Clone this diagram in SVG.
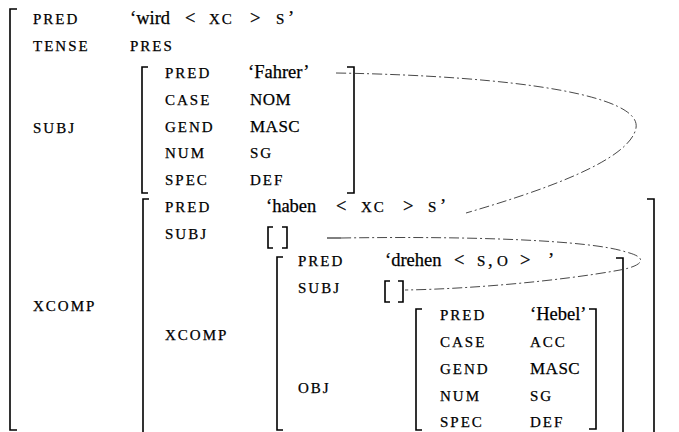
<svg xmlns="http://www.w3.org/2000/svg" width="679" height="432" viewBox="0 0 679 432">
<style>
text{font-family:"Liberation Serif","DejaVu Serif",serif;fill:#000;stroke:#000;stroke-width:0.25}
.lab{font-size:15px;letter-spacing:2px}
.val{font-size:18.5px}
.cap{font-size:17px;letter-spacing:0.5px}
.sc{font-size:15px;letter-spacing:2px}
.br{fill:none;stroke:#000;stroke-width:1.6}
.con{fill:none;stroke:#333;stroke-width:0.9;stroke-dasharray:10 3 2 3}
</style>
<rect width="679" height="432" fill="#fff"/>
<g id="outer">
<path class="br" d="M17,9 H10 V430 H17"/>
<text class="lab" x="33" y="24">PRED</text>
<text class="val" y="24"><tspan x="130">‘wird</tspan><tspan x="185">&lt;</tspan><tspan class="sc" x="209">XC</tspan><tspan x="250">&gt;</tspan><tspan class="sc" x="276">S</tspan><tspan x="288">’</tspan></text>
<text class="lab" x="33" y="51">TENSE</text>
<text class="sc" x="130" y="51">PRES</text>
<text class="lab" x="33" y="133">SUBJ</text>
<text class="lab" x="33" y="311">XCOMP</text>
</g>
<g id="subj">
<path class="br" d="M148,67 H142 V193 H148"/>
<path class="br" d="M347,67 H354 V193 H347"/>
<text class="lab" x="165" y="78">PRED</text>
<text class="val" x="248" y="78">‘Fahrer’</text>
<text class="lab" x="165" y="105">CASE</text>
<text class="cap" x="250" y="105">NOM</text>
<text class="lab" x="165" y="132">GEND</text>
<text class="cap" x="250" y="132">MASC</text>
<text class="lab" x="165" y="158">NUM</text>
<text class="sc" x="250" y="158">SG</text>
<text class="lab" x="165" y="185">SPEC</text>
<text class="sc" x="250" y="185">DEF</text>
</g>
<g id="xcomp-haben">
<path class="br" d="M149,199 H143 V432"/>
<path class="br" d="M647,199 H654 V432"/>
<text class="lab" x="165" y="212">PRED</text>
<text class="val" y="212"><tspan x="266">‘haben</tspan><tspan x="336">&lt;</tspan><tspan class="sc" x="361">XC</tspan><tspan x="403">&gt;</tspan><tspan class="sc" x="428">S</tspan><tspan x="440">’</tspan></text>
<text class="lab" x="165" y="239">SUBJ</text>
<path class="br" d="M273,227 H268 V248 H273"/>
<path class="br" d="M282,227 H287 V248 H282"/>
<text class="lab" x="165" y="340">XCOMP</text>
</g>
<g id="xcomp-drehen">
<path class="br" d="M283,257 H277 V430 H283"/>
<path class="br" d="M616,258 H623 V432"/>
<text class="lab" x="298" y="266">PRED</text>
<text class="val" y="266"><tspan x="385">‘drehen</tspan><tspan x="454">&lt;</tspan><tspan class="sc" x="477">S</tspan><tspan x="488">,</tspan><tspan class="sc" x="497">O</tspan><tspan x="520">&gt;</tspan><tspan x="548">’</tspan></text>
<text class="lab" x="298" y="293">SUBJ</text>
<path class="br" d="M390,281 H385 V302 H390"/>
<path class="br" d="M398,281 H403 V302 H398"/>
<text class="lab" x="298" y="393">OBJ</text>
</g>
<g id="obj-hebel">
<path class="br" d="M422,309 H416 V430 H422"/>
<path class="br" d="M589,309 H596 V429 H589"/>
<text class="lab" x="440" y="320">PRED</text>
<text class="val" x="530" y="320">‘Hebel’</text>
<text class="lab" x="440" y="347">CASE</text>
<text class="sc" x="530" y="347">ACC</text>
<text class="lab" x="440" y="374">GEND</text>
<text class="cap" x="530" y="374">MASC</text>
<text class="lab" x="440" y="401">NUM</text>
<text class="sc" x="530" y="401">SG</text>
<text class="lab" x="440" y="427">SPEC</text>
<text class="sc" x="530" y="427">DEF</text>
</g>
<g id="connectors">
<path class="con" d="M336,73 C520,76 642,96 636,128 C630,160 545,190 466,213"/>
<path fill="none" stroke="#000" stroke-width="1" d="M327,238 H341"/>
<path class="con" d="M341,238 C470,236 590,240 626,252 C650,258 642,266 620,270 C560,281 470,289 405,290"/>
</g>
</svg>
